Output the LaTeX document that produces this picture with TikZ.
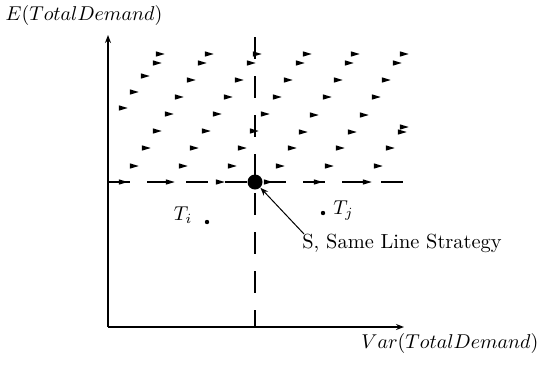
\documentclass[tikz,border=0pt]{standalone}
\usetikzlibrary{arrows.meta}
\begin{document}
\begin{tikzpicture}[x=0.5pt,y=-0.5pt,
  axis/.style={line width=0.9pt},
  dashline/.style={line width=0.9pt,dash pattern=on 11pt off 8.5pt},
  lbl/.style={inner sep=0pt,font=\fontsize{10.2}{12}\selectfont},
  tri/.style={fill=black}]
\useasboundingbox (0,0) rectangle (539,370);
% axes
\coordinate (O) at (108,327);
\coordinate (ytop) at (108,35);
\coordinate (xend) at (404,327);
\draw[axis,-{Stealth[length=4pt,width=3pt]}] (O) -- (ytop);
\draw[axis,-{Stealth[length=4pt,width=3pt]}] (O) -- (xend);
% dashed cross lines
\node[circle,fill=black,inner sep=0pt,minimum size=7.5pt] (S) at (255,182) {};
\coordinate (hl) at (108,182);
\coordinate (hr) at (404,182);
\coordinate (vt) at (255,37);
\coordinate (vb) at (255,327);
\draw[dashline] (hl) -- (hr);
\draw[dashline] (vt) -- (vb);
% triangles
\foreach \x/\y in {160/54,209/54,257/54,307/54,355/54,404/54,
  157/63,202/63,251/63,300/63,349/63,397/63,
  145/76,191/80,239/80,288/80,338/80,386/80,
  134/92,179/97,228/97,277/97,327/97,376/97,
  123/108,169/114,217/114,265/114,314/115,364/115,
  157/131,206/131,254/131,303/132,352/132,402/132,404/127,
  146/148,194/148,242/148,292/148,340/148,390/148,
  134/166,183/166,232/166,280/166,329/166,378/166,
  123/182,170/182,220/182,268/182,318/182,367/182}
  \fill[tri] (\x-4.2,\y-2.7) -- (\x+4.7,\y) -- (\x-4.2,\y+2.7) -- cycle;
% labels
\node[lbl] (ylab) at (84,15) {$E(TotalDemand)$};
\node[lbl,anchor=west] (xlab) at (361,343) {$Var(TotalDemand)$};
\node[lbl] (ti) at (183,215) {$T_i$};
\node[circle,fill=black,inner sep=0pt,minimum size=2.2pt] (tidot) at (207,222) {};
\node[circle,fill=black,inner sep=0pt,minimum size=2.2pt] (tjdot) at (323,213) {};
\node[lbl,anchor=west] (tj) at (333,211) {$T_j$};
\node[lbl,anchor=west] (slab) at (302,243) {S, Same Line Strategy};
\coordinate (lead) at (304,234);
\draw[line width=0.5pt,-{Stealth[length=4pt,width=3pt]}] (lead) -- (S);
\end{tikzpicture}
\end{document}
